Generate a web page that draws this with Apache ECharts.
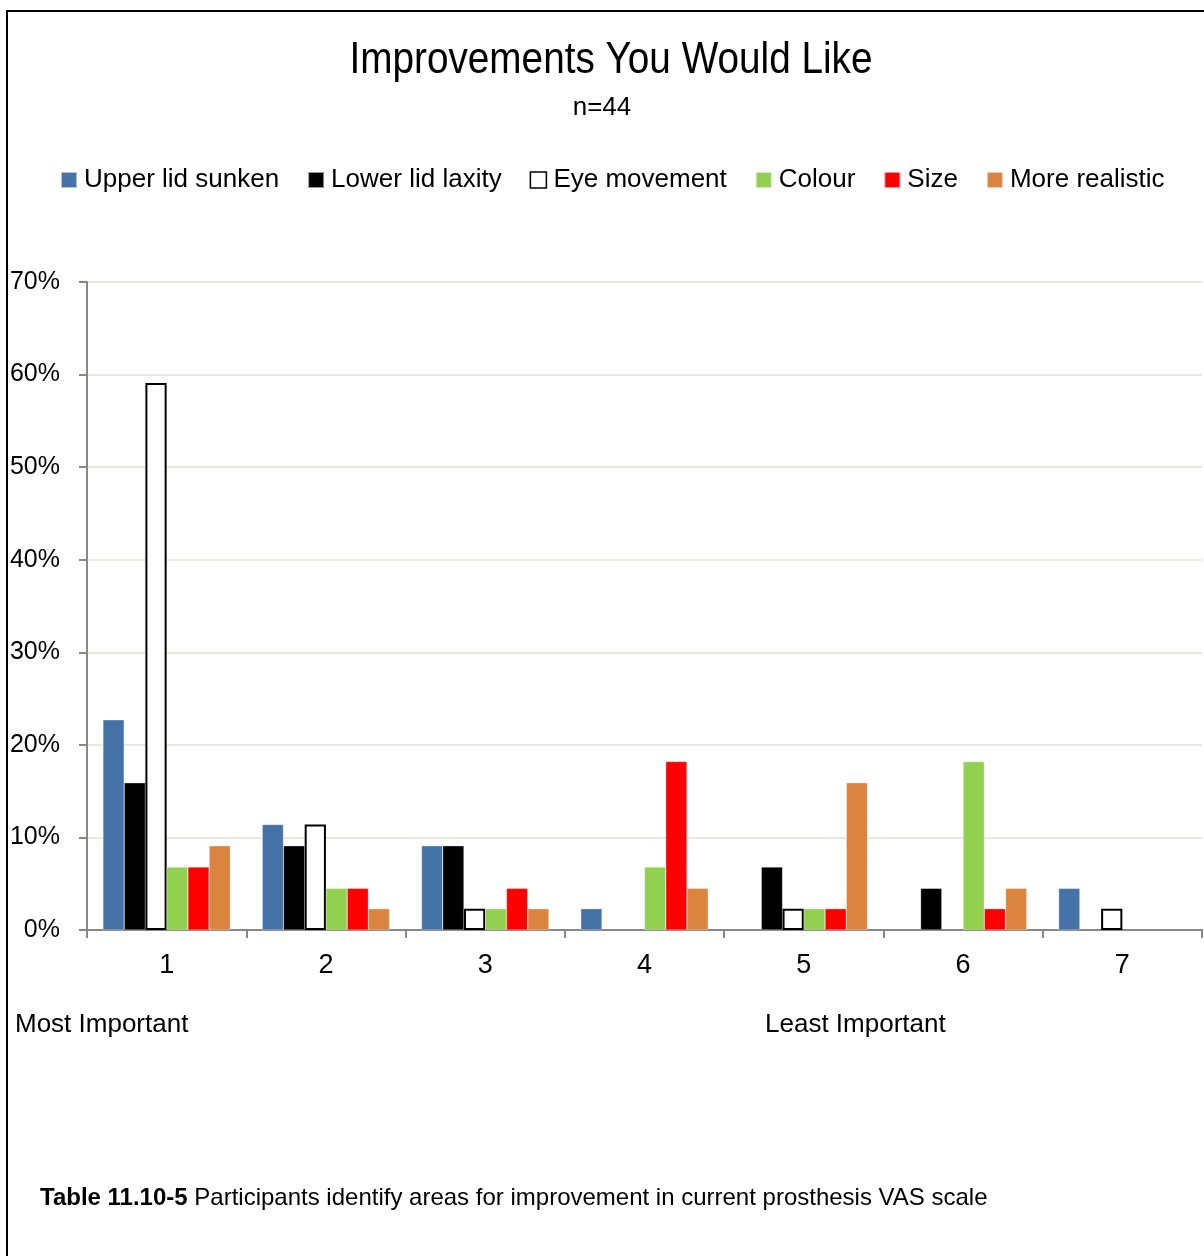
<!DOCTYPE html>
<html>
<head>
<meta charset="utf-8">
<script src="https://cdn.jsdelivr.net/npm/echarts@6/dist/echarts.min.js"></script>
<style>
html,body{margin:0;padding:0;background:#fff;}
#chart{width:1204px;height:1256px;}
</style>
</head>
<body>
<div id="chart"></div>
<script>
const categories = ['1','2','3','4','5','6','7'];
const upperLid   = [22.7, 11.4, 9.1, 2.3, 0, 0, 4.5];
const lowerLid   = [15.9, 9.1, 9.1, 0, 6.8, 4.5, 0];
const eyeMove    = [59.1, 11.4, 2.3, 0, 2.3, 0, 2.3];
const colour     = [6.8, 4.5, 2.3, 6.8, 2.3, 18.2, 0];
const sizeVals   = [6.8, 4.5, 4.5, 18.2, 2.3, 2.3, 0];
const moreReal   = [9.1, 2.3, 2.3, 4.5, 15.9, 4.5, 0];
const yTicks = [0,10,20,30,40,50,60,70];

const FONT = "'Liberation Sans',Arial,sans-serif";
const nz = a => a.map(v => v === 0 ? null : v);

const seriesDefs = [
  {name:'Upper lid sunken', data:upperLid, color:'#4572A7'},
  {name:'Lower lid laxity', data:lowerLid, color:'#000000'},
  {name:'Eye movement', data:eyeMove, color:'#FFFFFF', border:true},
  {name:'Colour', data:colour, color:'#92D050'},
  {name:'Size', data:sizeVals, color:'#FF0000'},
  {name:'More realistic', data:moreReal, color:'#DA843F'}
];

const chart = echarts.init(document.getElementById('chart'), null, {renderer:'canvas'});
chart.setOption({
  animation:false,
  backgroundColor:'#fff',
  textStyle:{fontFamily:FONT},
  title:[{
    text:'n=44',
    left:'center', top:90,
    textStyle:{fontFamily:FONT, fontSize:26, fontWeight:'normal', color:'#000'}
  }],
  legend:{
    left:60, top:167, padding:0,
    itemWidth:16, itemHeight:16, itemGap:28,
    icon:'rect',
    textStyle:{fontFamily:FONT, fontSize:26, color:'#000', padding:[0,0,0,2]},
    data: seriesDefs.map(s => ({name:s.name, itemStyle: s.border ? {color:'#fff', borderColor:'#000', borderWidth:1.5} : {color:s.color}}))
  },
  grid:{left:87, right:2, top:282, bottom:326, containLabel:false},
  xAxis:{
    type:'category',
    data:categories,
    axisLine:{lineStyle:{color:'#888', width:2}},
    axisTick:{show:true, length:8, lineStyle:{color:'#888', width:2}},
    axisLabel:{fontFamily:FONT, fontSize:27, color:'#000', margin:22}
  },
  yAxis:{
    type:'value', min:0, max:70, interval:10,
    axisLine:{show:true, lineStyle:{color:'#888', width:2}},
    axisTick:{show:true, length:8, lineStyle:{color:'#888', width:2}},
    splitLine:{lineStyle:{color:'#ECE9DC', width:2}},
    axisLabel:{fontFamily:FONT, fontSize:25, color:'#000', margin:27, formatter:'{value}%'}
  },
  series: seriesDefs.map(s => ({
    name:s.name, type:'bar',
    data: nz(s.data),
    barGap:'0%', barCategoryGap:'20%',
    itemStyle: s.border ? {color:'#fff', borderColor:'#000', borderWidth:2} : {color:s.color, borderColor:'rgba(255,255,255,0.6)', borderWidth:0.5}
  })),
  graphic:[
    {type:'rect', shape:{x:7, y:11, width:1220, height:1270}, style:{fill:'none', stroke:'#000', lineWidth:2}, silent:true},
    {type:'text', x:611, y:39, scaleX:0.88, originX:0, style:{text:'Improvements You Would Like', font:"44px " + FONT, fill:'#000', textAlign:'center', textVerticalAlign:'top'}},
    {type:'text', left:15, top:1012, style:{text:'Most Important', font:"26px " + FONT, fill:'#000'}},
    {type:'text', left:765, top:1012, style:{text:'Least Important', font:"26px " + FONT, fill:'#000'}},
    {type:'text', left:40, top:1186, style:{
      text:'{b|Table 11.10-5} Participants identify areas for improvement in current prosthesis VAS scale',
      font:"24px " + FONT, fill:'#000',
      rich:{b:{fontWeight:'bold', fontSize:24, fontFamily:FONT, fill:'#000'}}
    }}
  ]
});
</script>
</body>
</html>
